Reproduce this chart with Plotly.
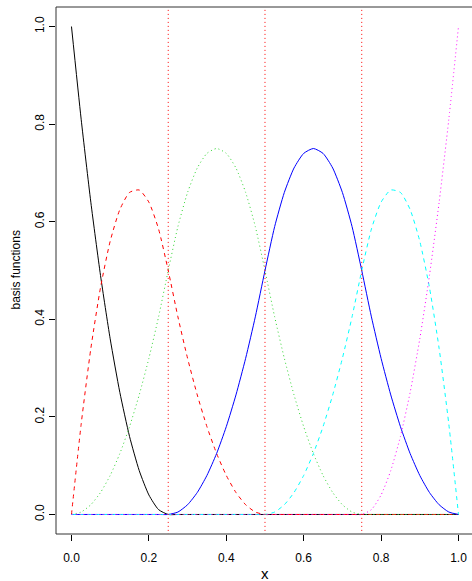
import plotly.graph_objects as go

x = [0.0, 0.025, 0.05, 0.075, 0.1, 0.125, 0.15, 0.175, 0.2, 0.225, 0.25,
     0.275, 0.3, 0.325, 0.35, 0.375, 0.4, 0.425, 0.45, 0.475, 0.5,
     0.525, 0.55, 0.575, 0.6, 0.625, 0.65, 0.675, 0.7, 0.725, 0.75,
     0.775, 0.8, 0.825, 0.85, 0.875, 0.9, 0.925, 0.95, 0.975, 1.0]

b1 = [1.0, 0.81, 0.64, 0.49, 0.36, 0.25, 0.16, 0.09, 0.04, 0.01, 0.0] + [0.0] * 30
b2 = [0.0, 0.185, 0.34, 0.465, 0.56, 0.625, 0.66, 0.665, 0.64, 0.585, 0.5,
      0.405, 0.32, 0.245, 0.18, 0.125, 0.08, 0.045, 0.02, 0.005, 0.0] + [0.0] * 20
b3 = [0.0, 0.005, 0.02, 0.045, 0.08, 0.125, 0.18, 0.245, 0.32, 0.405, 0.5,
      0.59, 0.66, 0.71, 0.74, 0.75, 0.74, 0.71, 0.66, 0.59, 0.5,
      0.405, 0.32, 0.245, 0.18, 0.125, 0.08, 0.045, 0.02, 0.005, 0.0] + [0.0] * 10
b4 = [0.0] * 10 + [0.0, 0.005, 0.02, 0.045, 0.08, 0.125, 0.18, 0.245, 0.32, 0.405, 0.5,
                   0.59, 0.66, 0.71, 0.74, 0.75, 0.74, 0.71, 0.66, 0.59, 0.5,
                   0.405, 0.32, 0.245, 0.18, 0.125, 0.08, 0.045, 0.02, 0.005, 0.0]
b5 = [0.0] * 20 + [0.0, 0.005, 0.02, 0.045, 0.08, 0.125, 0.18, 0.245, 0.32, 0.405, 0.5,
                   0.585, 0.64, 0.665, 0.66, 0.625, 0.56, 0.465, 0.34, 0.185, 0.0]
b6 = [0.0] * 30 + [0.0, 0.01, 0.04, 0.09, 0.16, 0.25, 0.36, 0.49, 0.64, 0.81, 1.0]

knots = [0.25, 0.5, 0.75]
x_ticks = [0.0, 0.2, 0.4, 0.6, 0.8, 1.0]
y_ticks = [0.0, 0.2, 0.4, 0.6, 0.8, 1.0]
tick_text = ["0.0", "0.2", "0.4", "0.6", "0.8", "1.0"]

series = [b1, b2, b3, b4, b5, b6]
colors = ["black", "#FF0000", "#33D633", "#0000FF", "#00FFFF", "#FF00FF"]
dashes = ["solid", "4px,4px", "1px,3px", "solid", "4px,4px", "1px,3px"]

FONT = "Liberation Sans, Arial, Helvetica, sans-serif"

fig = go.Figure()
for ys, c, d in zip(series, colors, dashes):
    fig.add_trace(go.Scatter(x=x, y=ys, mode="lines",
                             line=dict(color=c, width=1, dash=d, shape="spline", smoothing=0.6),
                             showlegend=False, hoverinfo="skip"))

for k in knots:
    fig.add_trace(go.Scatter(x=[k, k], y=[-0.05, 1.05], mode="lines",
                             line=dict(color="#FF0000", width=1, dash="1px,3px"),
                             showlegend=False, hoverinfo="skip"))

# box: left, top, bottom (right edge lies just outside the page)
box = dict(color="#333333", width=1)
fig.add_shape(type="line", xref="paper", yref="paper", x0=0, x1=0, y0=0, y1=1, line=box)
fig.add_shape(type="line", xref="paper", yref="paper", x0=0, x1=1, y0=1, y1=1, line=box)
fig.add_shape(type="line", xref="paper", yref="paper", x0=0, x1=1, y0=0, y1=0, line=box)

fig.update_layout(
    width=472, height=581,
    margin=dict(l=56, r=0, t=7, b=47),
    plot_bgcolor="white", paper_bgcolor="white",
    font=dict(family=FONT, size=12, color="black"),
    xaxis=dict(range=[-0.04, 1.0349], tickvals=x_ticks, ticktext=tick_text,
               showgrid=False, zeroline=False, showline=False,
               ticks="outside", ticklen=6, tickcolor="black", tickwidth=1,
               ticklabelstandoff=7,
               tickfont=dict(size=12, family=FONT, color="black")),
    yaxis=dict(range=[-0.04, 1.04], tickvals=y_ticks, ticktext=tick_text,
               showgrid=False, zeroline=False, showline=False,
               ticks="outside", ticklen=6, tickcolor="black", tickwidth=1, tickangle=-90,
               tickfont=dict(size=12, family=FONT, color="black")),
    annotations=[
        dict(text="x", x=0.5, xref="x", y=0, yref="paper", yanchor="middle", yshift=-39,
             showarrow=False, font=dict(size=15, family=FONT, color="black")),
        dict(text="basis functions", x=0, xref="paper", xanchor="center", xshift=-41,
             y=0.5, yref="y", textangle=-90, showarrow=False,
             font=dict(size=12, family=FONT, color="black")),
    ],
)

fig.write_html("out.html")
